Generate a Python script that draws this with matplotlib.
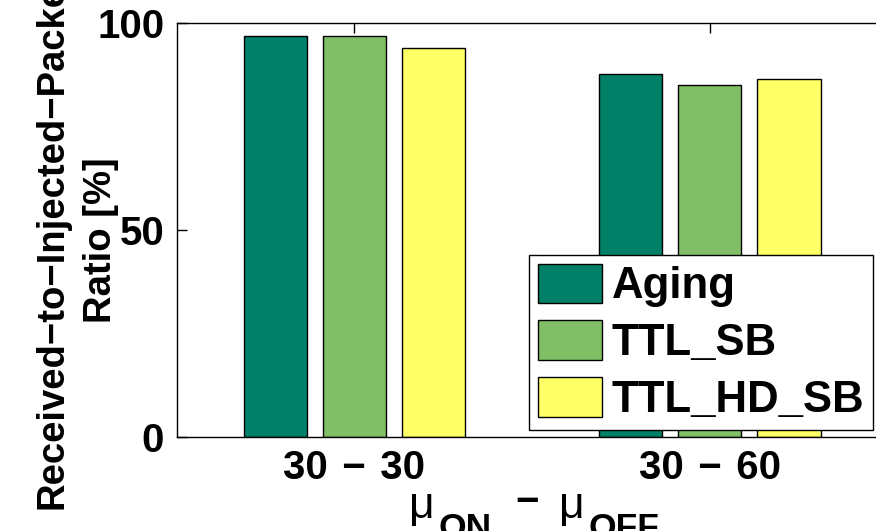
import matplotlib
matplotlib.use("Agg")
import matplotlib.pyplot as plt
import numpy as np

# Data
categories = ["30\u200a − \u200a30", "30\u200a − \u200a60"]
series_names = ["Aging", "TTL_SB", "TTL_HD_SB"]
aging = [96.9, 87.6]
ttl_sb = [96.9, 85.0]
ttl_hd_sb = [93.8, 86.3]
colors = ["#008066", "#80BF66", "#FFFF66"]

plt.rcParams["font.family"] = ["Liberation Sans", "DejaVu Sans"]
plt.rcParams["font.weight"] = "bold"

TICK_FS = 29
LEG_FS = 31.5
YLAB_FS = 27.5

fig = plt.figure(figsize=(8.76, 5.31), dpi=100)
W, H = 876, 531
left_px, right_px, top_px, bottom_px = 176.7, 887.5, 22.7, 436.7
ax = fig.add_axes([left_px / W, 1 - bottom_px / H,
                   (right_px - left_px) / W, (bottom_px - top_px) / H])

x = np.arange(1, len(categories) + 1)
bar_w = 0.178
step = 0.2225
for i, (vals, name, c) in enumerate(zip([aging, ttl_sb, ttl_hd_sb], series_names, colors)):
    ax.bar(x + (i - 1) * step, vals, width=bar_w, color=c, edgecolor="black",
           linewidth=1.0, label=name)

ax.set_xlim(0.5, 2.5)
ax.set_ylim(0, 100)
ax.set_xticks(x)
ax.set_xticklabels(categories, fontsize=TICK_FS, fontweight="bold")
ax.set_yticks([0, 50, 100])
ax.set_yticklabels(["0", "50", "100"], fontsize=TICK_FS, fontweight="bold")
ax.tick_params(axis="y", direction="in", length=7, width=1, right=True, pad=9)
ax.tick_params(axis="x", direction="in", length=7, width=1, top=True, pad=9)
ax.set_axisbelow(True)
for s in ax.spines.values():
    s.set_linewidth(1.0)

ax.set_ylabel("Received−to−Injected−Packet\nRatio [%]", fontsize=YLAB_FS,
              fontweight="bold", linespacing=1.45)
ax.yaxis.set_label_coords(-0.081, 0.475)


# x-axis label "μ_ON − μ_OFF", composed piecewise (figure pixel positions)
def px_text(px, py, s, size, weight):
    fig.text(px / W, 1 - py / H, s, fontsize=size, fontweight=weight,
             ha="left", va="baseline")


px_text(409, 518, "μ", 32, "normal")
px_text(438, 538, "ON", 25.5, "bold")
px_text(515, 513, "−", 29, "bold")
px_text(559, 518, "μ", 32, "normal")
px_text(589, 538, "OFF", 25.5, "bold")

leg = ax.legend(loc="lower right", bbox_to_anchor=(873 / W, 1 - 430 / H),
                bbox_transform=fig.transFigure, fontsize=LEG_FS, frameon=True,
                fancybox=False, framealpha=1, edgecolor="black",
                handlelength=1.46, handleheight=1.02, labelspacing=0.3,
                handletextpad=0.22, borderpad=0.2, borderaxespad=0)
leg.get_frame().set_linewidth(1.0)
for t in leg.get_texts():
    t.set_fontweight("bold")

fig.savefig("out.png", dpi=100)
